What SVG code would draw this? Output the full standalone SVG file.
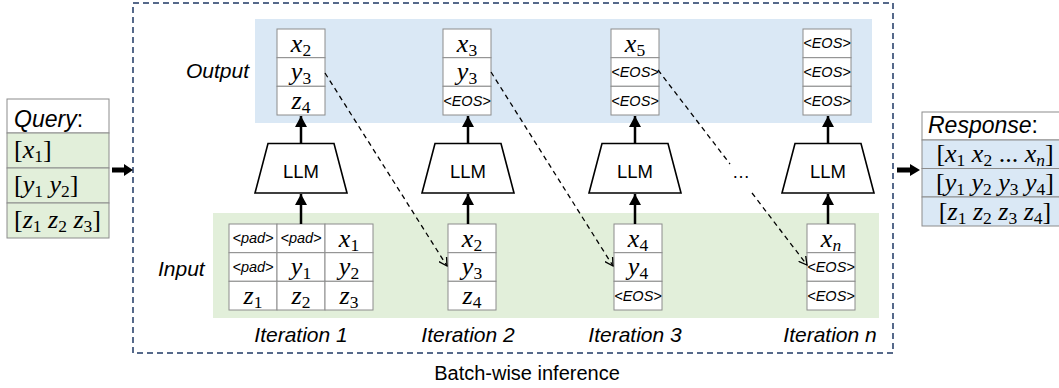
<svg xmlns="http://www.w3.org/2000/svg" width="1059" height="388" viewBox="0 0 1059 388">
<style>
.m{font-family:"Liberation Serif","Times New Roman",serif;font-style:italic;font-size:26px;fill:#000}
.s{font-style:normal;font-size:17.5px}
.si{font-style:italic;font-size:17.5px}
.u{font-style:normal}
.tok{font-family:"Liberation Sans",Arial,sans-serif;font-style:italic;font-size:14.5px;fill:#000}
.lbl{font-family:"Liberation Sans",Arial,sans-serif;font-style:italic;font-size:21px;fill:#000}
.hdr{font-family:"Liberation Sans",Arial,sans-serif;font-style:italic;font-size:23px;fill:#000}
.llmt{font-family:"Liberation Sans",Arial,sans-serif;font-size:18.5px;fill:#000}
.cell{fill:#fff;stroke:#8c8c8c;stroke-width:1}
.gcell{fill:#e2efda;stroke:#8c8c8c;stroke-width:1}
.bcell{fill:#dae8f5;stroke:#8c8c8c;stroke-width:1}
.llm{fill:#fff;stroke:#000;stroke-width:1.6}
.up{stroke:#000;stroke-width:2.5;fill:none;marker-end:url(#solid)}
.dash{stroke:#000;stroke-width:1.3;fill:none;stroke-dasharray:5,4;marker-end:url(#open)}
</style>
<defs>
<marker id="solid" markerUnits="userSpaceOnUse" markerWidth="12" markerHeight="12" refX="11" refY="6" orient="auto">
<path d="M0,0 L11,6 L0,12 z" fill="#000"/>
</marker>
<marker id="open" markerUnits="userSpaceOnUse" markerWidth="10" markerHeight="10" refX="8" refY="5" orient="auto">
<path d="M0,0.5 L8,5 L0,9.5" fill="none" stroke="#000" stroke-width="1.3"/>
</marker>
</defs>
<rect width="1059" height="388" fill="#fff"/>

<!-- bands -->
<rect id="outputBand" x="255" y="19" width="617" height="104" fill="#dae8f5"/>
<rect id="inputBand" x="213" y="213" width="666" height="105" fill="#e2efda"/>
<rect id="batchBox" x="133" y="3" width="760" height="350" fill="none" stroke="#1f3864" stroke-width="1.5" stroke-dasharray="6,4"/>

<text class="lbl" x="186" y="78">Output</text>
<text class="lbl" x="158" y="276">Input</text>
<text class="lbl" x="301" y="342" text-anchor="middle">Iteration 1</text>
<text class="lbl" x="468" y="342" text-anchor="middle">Iteration 2</text>
<text class="lbl" x="635" y="342" text-anchor="middle">Iteration 3</text>
<text class="lbl" x="830" y="342" text-anchor="middle">Iteration n</text>
<text x="527" y="380" text-anchor="middle" font-family="Liberation Sans, Arial, sans-serif" font-size="20">Batch-wise inference</text>

<!-- Query -->
<g id="query">
<rect class="cell" x="7" y="99" width="102" height="34"/>
<rect class="gcell" x="7" y="133" width="102" height="35"/>
<rect class="gcell" x="7" y="168" width="102" height="35"/>
<rect class="gcell" x="7" y="203" width="102" height="35"/>
<text class="hdr" x="14" y="127">Query<tspan class="u">:</tspan></text>
<text class="m" x="14" y="158"><tspan class="u">[</tspan>x<tspan class="s" dy="4">1</tspan><tspan class="u" dy="-4">]</tspan></text>
<text class="m" x="14" y="193"><tspan class="u">[</tspan>y<tspan class="s" dy="4">1</tspan><tspan dy="-4"> y</tspan><tspan class="s" dy="4">2</tspan><tspan class="u" dy="-4">]</tspan></text>
<text class="m" x="14" y="228"><tspan class="u">[</tspan>z<tspan class="s" dy="4">1</tspan><tspan dy="-4"> z</tspan><tspan class="s" dy="4">2</tspan><tspan dy="-4"> z</tspan><tspan class="s" dy="4">3</tspan><tspan class="u" dy="-4">]</tspan></text>
</g>

<!-- Response -->
<g id="response">
<rect class="cell" x="922" y="112" width="150" height="28"/>
<rect class="bcell" x="922" y="140" width="150" height="28.5"/>
<rect class="bcell" x="922" y="168.5" width="150" height="28.5"/>
<rect class="bcell" x="922" y="197" width="150" height="29"/>
<text class="hdr" x="928" y="133">Response<tspan class="u">:</tspan></text>
<text class="m" x="995" y="162" text-anchor="middle"><tspan class="u">[</tspan>x<tspan class="s" dy="4">1</tspan><tspan dy="-4"> x</tspan><tspan class="s" dy="4">2</tspan><tspan class="u" dy="-4"> ... </tspan>x<tspan class="si" dy="4">n</tspan><tspan class="u" dy="-4">]</tspan></text>
<text class="m" x="995" y="191" text-anchor="middle"><tspan class="u">[</tspan>y<tspan class="s" dy="4">1</tspan><tspan dy="-4"> y</tspan><tspan class="s" dy="4">2</tspan><tspan dy="-4"> y</tspan><tspan class="s" dy="4">3</tspan><tspan dy="-4"> y</tspan><tspan class="s" dy="4">4</tspan><tspan class="u" dy="-4">]</tspan></text>
<text class="m" x="995" y="220" text-anchor="middle"><tspan class="u">[</tspan>z<tspan class="s" dy="4">1</tspan><tspan dy="-4"> z</tspan><tspan class="s" dy="4">2</tspan><tspan dy="-4"> z</tspan><tspan class="s" dy="4">3</tspan><tspan dy="-4"> z</tspan><tspan class="s" dy="4">4</tspan><tspan class="u" dy="-4">]</tspan></text>
</g>

<!-- Outputs -->
<g id="out1">
<rect class="cell" x="277" y="29" width="48" height="28.7"/>
<rect class="cell" x="277" y="57.7" width="48" height="28.6"/>
<rect class="cell" x="277" y="86.3" width="48" height="28.7"/>
<text class="m" x="301" y="51.7" text-anchor="middle">x<tspan class="s" dy="4">2</tspan></text>
<text class="m" x="301" y="80.4" text-anchor="middle">y<tspan class="s" dy="4">3</tspan></text>
<text class="m" x="301" y="109" text-anchor="middle">z<tspan class="s" dy="4">4</tspan></text>
</g>
<g id="out2">
<rect class="cell" x="443" y="29" width="48" height="28.7"/>
<rect class="cell" x="443" y="57.7" width="48" height="28.6"/>
<rect class="cell" x="443" y="86.3" width="48" height="28.7"/>
<text class="m" x="467" y="51.7" text-anchor="middle">x<tspan class="s" dy="4">3</tspan></text>
<text class="m" x="467" y="80.4" text-anchor="middle">y<tspan class="s" dy="4">3</tspan></text>
<text class="tok" x="467" y="105.6" text-anchor="middle">&lt;EOS&gt;</text>
</g>
<g id="out3">
<rect class="cell" x="611" y="29" width="48" height="28.7"/>
<rect class="cell" x="611" y="57.7" width="48" height="28.6"/>
<rect class="cell" x="611" y="86.3" width="48" height="28.7"/>
<text class="m" x="635" y="51.7" text-anchor="middle">x<tspan class="s" dy="4">5</tspan></text>
<text class="tok" x="635" y="77" text-anchor="middle">&lt;EOS&gt;</text>
<text class="tok" x="635" y="105.6" text-anchor="middle">&lt;EOS&gt;</text>
</g>
<g id="outN">
<rect class="cell" x="803" y="29" width="48" height="28.7"/>
<rect class="cell" x="803" y="57.7" width="48" height="28.6"/>
<rect class="cell" x="803" y="86.3" width="48" height="28.7"/>
<text class="tok" x="827" y="48.4" text-anchor="middle">&lt;EOS&gt;</text>
<text class="tok" x="827" y="77" text-anchor="middle">&lt;EOS&gt;</text>
<text class="tok" x="827" y="105.6" text-anchor="middle">&lt;EOS&gt;</text>
</g>

<!-- LLMs -->
<g id="llm1"><polygon class="llm" points="268,143.5 334,143.5 347,193 255,193"/><text class="llmt" x="301" y="178" text-anchor="middle">LLM</text></g>
<g id="llm2"><polygon class="llm" points="435,143.5 501,143.5 514,193 422,193"/><text class="llmt" x="468" y="178" text-anchor="middle">LLM</text></g>
<g id="llm3"><polygon class="llm" points="602,143.5 668,143.5 681,193 589,193"/><text class="llmt" x="635" y="178" text-anchor="middle">LLM</text></g>
<g id="llmN"><polygon class="llm" points="795,143.5 861,143.5 874,193 782,193"/><text class="llmt" x="828" y="178" text-anchor="middle">LLM</text></g>

<!-- Inputs -->
<g id="in1">
<rect class="cell" x="229" y="224" width="48" height="28.7"/>
<rect class="cell" x="277" y="224" width="48" height="28.7"/>
<rect class="cell" x="325" y="224" width="48" height="28.7"/>
<rect class="cell" x="229" y="252.7" width="48" height="28.6"/>
<rect class="cell" x="277" y="252.7" width="48" height="28.6"/>
<rect class="cell" x="325" y="252.7" width="48" height="28.6"/>
<rect class="cell" x="229" y="281.3" width="48" height="28.7"/>
<rect class="cell" x="277" y="281.3" width="48" height="28.7"/>
<rect class="cell" x="325" y="281.3" width="48" height="28.7"/>
<text class="tok" x="253" y="243.4" text-anchor="middle">&lt;pad&gt;</text>
<text class="tok" x="301" y="243.4" text-anchor="middle">&lt;pad&gt;</text>
<text class="m" x="349" y="246.7" text-anchor="middle">x<tspan class="s" dy="4">1</tspan></text>
<text class="tok" x="253" y="272" text-anchor="middle">&lt;pad&gt;</text>
<text class="m" x="301" y="275.3" text-anchor="middle">y<tspan class="s" dy="4">1</tspan></text>
<text class="m" x="349" y="275.3" text-anchor="middle">y<tspan class="s" dy="4">2</tspan></text>
<text class="m" x="253" y="304" text-anchor="middle">z<tspan class="s" dy="4">1</tspan></text>
<text class="m" x="301" y="304" text-anchor="middle">z<tspan class="s" dy="4">2</tspan></text>
<text class="m" x="349" y="304" text-anchor="middle">z<tspan class="s" dy="4">3</tspan></text>
</g>
<g id="in2">
<rect class="cell" x="448" y="224" width="48" height="28.7"/>
<rect class="cell" x="448" y="252.7" width="48" height="28.6"/>
<rect class="cell" x="448" y="281.3" width="48" height="28.7"/>
<text class="m" x="472" y="246.7" text-anchor="middle">x<tspan class="s" dy="4">2</tspan></text>
<text class="m" x="472" y="275.3" text-anchor="middle">y<tspan class="s" dy="4">3</tspan></text>
<text class="m" x="472" y="304" text-anchor="middle">z<tspan class="s" dy="4">4</tspan></text>
</g>
<g id="in3">
<rect class="cell" x="614" y="224" width="48" height="28.7"/>
<rect class="cell" x="614" y="252.7" width="48" height="28.6"/>
<rect class="cell" x="614" y="281.3" width="48" height="28.7"/>
<text class="m" x="638" y="246.7" text-anchor="middle">x<tspan class="s" dy="4">4</tspan></text>
<text class="m" x="638" y="275.3" text-anchor="middle">y<tspan class="s" dy="4">4</tspan></text>
<text class="tok" x="638" y="300.7" text-anchor="middle">&lt;EOS&gt;</text>
</g>
<g id="inN">
<rect class="cell" x="807" y="224" width="48" height="28.7"/>
<rect class="cell" x="807" y="252.7" width="48" height="28.6"/>
<rect class="cell" x="807" y="281.3" width="48" height="28.7"/>
<text class="m" x="831" y="246.7" text-anchor="middle">x<tspan class="si" dy="4">n</tspan></text>
<text class="tok" x="831" y="272" text-anchor="middle">&lt;EOS&gt;</text>
<text class="tok" x="831" y="300.7" text-anchor="middle">&lt;EOS&gt;</text>
</g>

<!-- connectors -->
<g id="connectors">
<path d="M112,167.5 H124 V164 L133,170 L124,176 V172.5 H112 Z" fill="#000"/>
<path d="M897,167.5 H910 V164 L920,170 L910,176 V172.5 H897 Z" fill="#000"/>
<line class="up" x1="301" y1="143.5" x2="301" y2="116"/>
<line class="up" x1="468" y1="143.5" x2="468" y2="116"/>
<line class="up" x1="635" y1="143.5" x2="635" y2="116"/>
<line class="up" x1="828" y1="143.5" x2="828" y2="116"/>
<line class="up" x1="301" y1="224" x2="301" y2="194"/>
<line class="up" x1="468" y1="224" x2="468" y2="194"/>
<line class="up" x1="635" y1="224" x2="635" y2="194"/>
<line class="up" x1="828" y1="224" x2="828" y2="194"/>
<path class="dash" d="M325,73 L447,266"/>
<path class="dash" d="M491,72 L613,266"/>
<path class="dash" d="M658,70 L730,164 M752,193 L807,265"/>
<text x="741" y="178" text-anchor="middle" font-family="Liberation Sans, Arial, sans-serif" font-size="18">…</text>
</g>
</svg>
